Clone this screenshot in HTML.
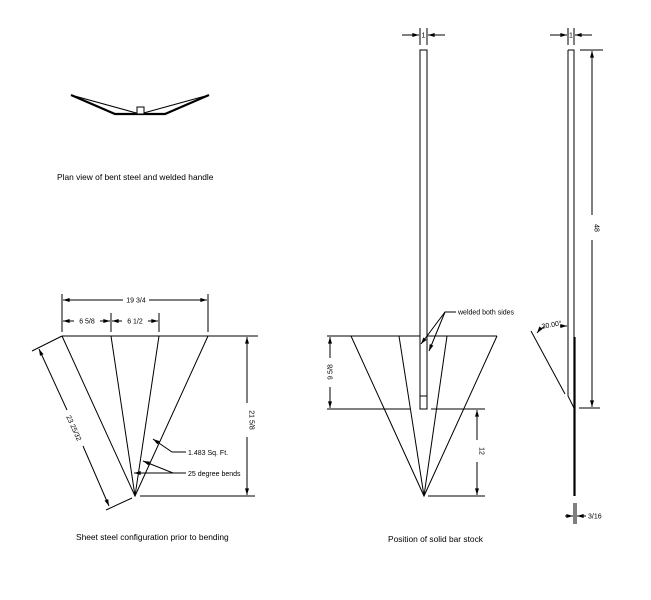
<!DOCTYPE html>
<html><head><meta charset="utf-8"><style>
html,body{margin:0;padding:0;background:#fff;}
svg{display:block;}
text{font-family:"Liberation Sans",Arial,sans-serif;font-size:7px;fill:#000;}
.cap{font-size:8.4px;}
</style></head><body>
<svg width="651" height="600" viewBox="0 0 651 600" xmlns="http://www.w3.org/2000/svg">
<defs>
<marker id="a" viewBox="0 0 10 6" refX="10" refY="3" markerWidth="7" markerHeight="4" orient="auto-start-reverse" markerUnits="userSpaceOnUse"><path d="M0,0L10,3L0,6z" fill="#000"/></marker>
</defs>
<g stroke="#000" stroke-width="1" fill="none">
<!-- Plan view -->
<polyline points="71,95 115,114 165,114 209,95" stroke-width="2.2"/>
<line x1="71" y1="95" x2="140" y2="114"/>
<line x1="209" y1="95" x2="140" y2="114"/>
<rect x="137" y="107" width="7" height="7" fill="#fff"/>

<!-- Sheet layout -->
<line x1="62" y1="336" x2="258" y2="336"/>
<line x1="140" y1="496" x2="255" y2="496"/>
<polyline points="62,336 135,496 208,336"/>
<line x1="111" y1="336" x2="135" y2="496"/>
<line x1="159" y1="336" x2="135" y2="496"/>
<line x1="62" y1="294" x2="62" y2="332"/>
<line x1="208" y1="294" x2="208" y2="332"/>
<line x1="111" y1="313" x2="111" y2="332"/>
<line x1="159" y1="313" x2="159" y2="332"/>
<line x1="63" y1="300" x2="123" y2="300" marker-start="url(#a)"/>
<line x1="149" y1="300" x2="207" y2="300" marker-end="url(#a)"/>
<line x1="63" y1="321" x2="74" y2="321" marker-start="url(#a)"/>
<line x1="100" y1="321" x2="110" y2="321" marker-end="url(#a)"/>
<line x1="112" y1="321" x2="122" y2="321" marker-start="url(#a)"/>
<line x1="148" y1="321" x2="158" y2="321" marker-end="url(#a)"/>
<line x1="247" y1="337" x2="247" y2="403" marker-start="url(#a)"/>
<line x1="247" y1="437" x2="247" y2="495" marker-end="url(#a)"/>
<line x1="62" y1="336" x2="32" y2="351"/>
<line x1="132" y1="498" x2="106" y2="510"/>
<line x1="39" y1="349" x2="67" y2="410" marker-start="url(#a)"/>
<line x1="83" y1="446" x2="109" y2="506" marker-end="url(#a)"/>
<polyline points="186,452 172,452 153,439" marker-end="url(#a)"/>
<polyline points="186,473 173,473 143,461" marker-end="url(#a)"/>
<line x1="173" y1="473" x2="134" y2="473" marker-end="url(#a)"/>

<!-- Middle: position of bar -->
<line x1="327" y1="336" x2="497" y2="336"/>
<polyline points="351,336 424,496 497,336"/>
<line x1="399" y1="336" x2="424" y2="496"/>
<line x1="447" y1="336" x2="424" y2="496"/>
<line x1="327" y1="409" x2="410" y2="409"/>
<line x1="431" y1="409" x2="485" y2="409"/>
<line x1="428" y1="496" x2="485" y2="496"/>
<rect x="420" y="50" width="7" height="359" fill="#fff"/>
<line x1="420" y1="396" x2="427" y2="396"/>
<line x1="420" y1="28" x2="420" y2="45"/>
<line x1="427" y1="28" x2="427" y2="45"/>
<line x1="402" y1="35" x2="419" y2="35" marker-end="url(#a)"/>
<line x1="445" y1="35" x2="428" y2="35" marker-end="url(#a)"/>
<line x1="330" y1="337" x2="330" y2="358" marker-start="url(#a)"/>
<line x1="330" y1="387" x2="330" y2="408" marker-end="url(#a)"/>
<line x1="477" y1="410" x2="477" y2="440" marker-start="url(#a)"/>
<line x1="477" y1="462" x2="477" y2="495" marker-end="url(#a)"/>
<polyline points="456,312 455,312 445,312 421,344" marker-end="url(#a)"/>
<line x1="445" y1="312" x2="429" y2="351" marker-end="url(#a)"/>

<!-- Right side view -->
<polyline points="568,50 574,50 574,408 568,396 568,50" fill="#fff"/>
<line x1="574.5" y1="337" x2="574.5" y2="496" stroke-width="2.2"/>
<line x1="568" y1="28" x2="568" y2="45"/>
<line x1="574" y1="28" x2="574" y2="45"/>
<line x1="550" y1="35" x2="567" y2="35" marker-end="url(#a)"/>
<line x1="592" y1="35" x2="575" y2="35" marker-end="url(#a)"/>
<line x1="580" y1="50" x2="603" y2="50"/>
<line x1="579" y1="408" x2="600" y2="408"/>
<line x1="592" y1="51" x2="592" y2="215" marker-start="url(#a)"/>
<line x1="592" y1="240" x2="592" y2="407" marker-end="url(#a)"/>
<line x1="531" y1="331" x2="565" y2="394"/>
<path d="M544,327 Q540,329 537,333" marker-end="url(#a)"/>
<line x1="560" y1="326" x2="567" y2="326" marker-end="url(#a)"/>
<line x1="574" y1="503" x2="574" y2="524"/>
<line x1="576" y1="503" x2="576" y2="524"/>
<line x1="565" y1="516" x2="573" y2="516" marker-end="url(#a)"/>
<line x1="586" y1="516" x2="577" y2="516" marker-end="url(#a)"/>
</g>

<g>
<text class="cap" x="57" y="180">Plan view of bent  steel and welded handle</text>
<text class="cap" x="76" y="540">Sheet  steel configuration prior to bending</text>
<text class="cap" x="388" y="542">Position of solid bar stock</text>
<text x="136" y="302.5" text-anchor="middle">19 3/4</text>
<text x="87" y="323.5" text-anchor="middle">6 5/8</text>
<text x="135" y="323.5" text-anchor="middle">6 1/2</text>
<text x="0" y="0" text-anchor="middle" transform="translate(249.5,420) rotate(90)">21 5/8</text>
<text x="0" y="0" text-anchor="middle" transform="translate(74,428) rotate(65.5) translate(0,2.5)">23 25/32</text>
<text x="188" y="455">1.483 Sq. Ft.</text>
<text x="188" y="476">25 degree bends</text>
<text x="423.5" y="37.5" font-size="6" text-anchor="middle">1</text>
<text x="571" y="37.5" font-size="6" text-anchor="middle">1</text>
<text x="0" y="0" text-anchor="middle" transform="translate(332.5,372) rotate(-90)">9 5/8</text>
<text x="0" y="0" text-anchor="middle" transform="translate(479.5,451) rotate(90)">12</text>
<text x="0" y="0" text-anchor="middle" transform="translate(594.5,228) rotate(90)">48</text>
<text x="458" y="314.5" font-size="6.5">welded both sides</text>
<text x="0" y="0" text-anchor="middle" transform="translate(552,327) rotate(-10)">30.00°</text>
<text x="588" y="518.5">3/16</text>
</g>
</svg>
</body></html>
